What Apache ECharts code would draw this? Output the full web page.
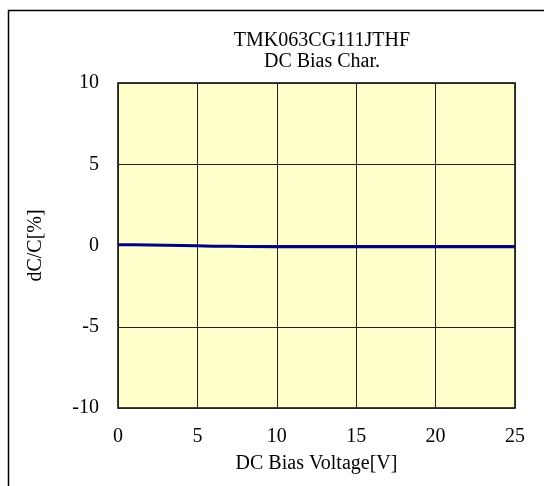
<!DOCTYPE html>
<html><head><meta charset="utf-8">
<script src="https://cdn.jsdelivr.net/npm/echarts@6/dist/echarts.min.js"></script>
<style>html,body{margin:0;padding:0;background:#fff}#c{width:544px;height:486px}</style>
</head><body><div id="c"></div>
<script>
const titleLines = ['TMK063CG111JTHF', 'DC Bias Char.'];
const xName = 'DC Bias Voltage[V]';
const yName = 'dC/C[%]';
const biasV = [0, 1, 2, 3, 4, 5, 6, 7, 8, 10, 12, 15, 20, 25];
const dCC   = [0.05, 0.04, 0.03, 0.02, 0.0, -0.02, -0.04, -0.05, -0.06, -0.07, -0.07, -0.08, -0.08, -0.08];

const font = 'Liberation Serif, Times New Roman, serif';
const chart = echarts.init(document.getElementById('c'));
chart.setOption({
  animation: false,
  title: {
    text: titleLines.join('\n'), left: 317, top: 25, textAlign: 'center',
    textStyle: { fontFamily: font, fontSize: 20, fontWeight: 'normal', color: '#000', lineHeight: 21 }
  },
  graphic: [{
    type: 'rect', z: -10, silent: true,
    shape: { x: 8.5, y: 10.5, width: 560, height: 500 },
    style: { fill: 'none', stroke: '#000', lineWidth: 1.5 }
  }],
  grid: { left: 118, right: 29, top: 83, bottom: 78, show: true, backgroundColor: '#FFFFCC', borderColor: '#000', borderWidth: 1.5 },
  xAxis: {
    type: 'value', min: 0, max: 25, interval: 5,
    name: xName, nameLocation: 'middle', nameGap: 46,
    nameTextStyle: { fontFamily: font, fontSize: 20, color: '#000' },
    axisLine: { show: false }, axisTick: { show: false },
    axisLabel: { fontFamily: font, fontSize: 20, color: '#000', margin: 19 },
    splitLine: { show: true, lineStyle: { color: '#222', width: 1 } }
  },
  yAxis: {
    type: 'value', min: -10, max: 10, interval: 5,
    name: yName, nameLocation: 'middle', nameGap: 72, nameRotate: 90,
    nameTextStyle: { fontFamily: font, fontSize: 20, color: '#000' },
    axisLine: { show: false }, axisTick: { show: false },
    axisLabel: { fontFamily: font, fontSize: 20, color: '#000', margin: 19 },
    splitLine: { show: true, lineStyle: { color: '#222', width: 1 } }
  },
  series: [{
    type: 'line', data: biasV.map((v, i) => [v, dCC[i]]),
    showSymbol: false, lineStyle: { color: '#000080', width: 3 }
  }]
});
</script></body></html>
